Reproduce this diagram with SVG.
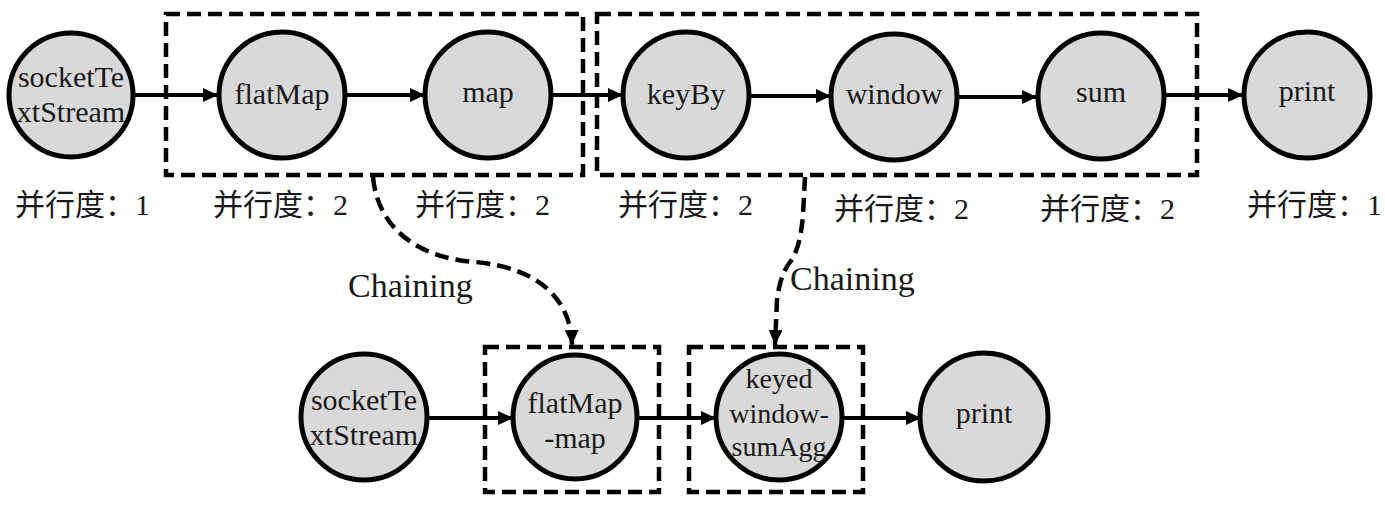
<svg xmlns="http://www.w3.org/2000/svg" width="1385" height="506" viewBox="0 0 1385 506">
<style>
.node{fill:#d9d9d9;stroke:#000;stroke-width:5}
.t{font-family:"Liberation Serif","Noto Sans CJK SC",serif;font-size:30px;fill:#1a1a1a;text-anchor:middle}
.ts{font-family:"Liberation Serif","Noto Sans CJK SC",serif;font-size:28px;fill:#1a1a1a;text-anchor:middle}
.lbl{font-family:"Liberation Serif","Noto Sans CJK SC",serif;font-size:30px;fill:#1a1a1a}
.chain{font-family:"Liberation Serif","Noto Sans CJK SC",serif;font-size:34px;fill:#1a1a1a}
.box{fill:none;stroke:#000;stroke-width:4.5;stroke-dasharray:14 7}
.edge{fill:none;stroke:#000;stroke-width:4;marker-end:url(#ah)}
.dedge{fill:none;stroke:#000;stroke-width:4.5;stroke-dasharray:14 7;marker-end:url(#ah)}
</style>
<defs>
<marker id="ah" markerUnits="userSpaceOnUse" markerWidth="17" markerHeight="15" refX="15" refY="7" orient="auto">
<path d="M0,0 L15,7 L0,14 z" fill="#000"/>
</marker>
</defs>
<rect width="1385" height="506" fill="#fff"/>

<g id="groups">
<rect class="box" x="166" y="14" width="417" height="161"/>
<rect class="box" x="597" y="14" width="600" height="161"/>
<rect class="box" x="485" y="347" width="174" height="145"/>
<rect class="box" x="689" y="347" width="174" height="145"/>
</g>

<g id="connectors">
<line class="edge" x1="134" y1="95" x2="218" y2="95"/>
<line class="edge" x1="346" y1="95" x2="425" y2="95"/>
<line class="edge" x1="552" y1="95" x2="623" y2="95"/>
<line class="edge" x1="750" y1="96" x2="831" y2="96"/>
<line class="edge" x1="958" y1="97" x2="1037" y2="97"/>
<line class="edge" x1="1165" y1="95" x2="1243" y2="95"/>
<line class="edge" x1="427" y1="418" x2="513" y2="418"/>
<line class="edge" x1="637" y1="418" x2="716" y2="418"/>
<line class="edge" x1="842" y1="418" x2="921" y2="418"/>
<path class="dedge" d="M373 177 C378 230 420 258 475 262 C540 268 571 300 572 345"/>
<path class="dedge" d="M805 177 L803 215 Q800 250 790 262 Q780 275 777 300 L775 345"/>
</g>

<g id="n-socket1"><circle class="node" cx="71" cy="95" r="62"/><text class="t" x="71" y="87">socketTe</text><text class="t" x="71" y="122">xtStream</text></g>
<g id="n-flatMap"><circle class="node" cx="282" cy="95" r="63"/><text class="t" x="282" y="104">flatMap</text></g>
<g id="n-map"><circle class="node" cx="488" cy="95" r="63"/><text class="t" x="488" y="102">map</text></g>
<g id="n-keyBy"><circle class="node" cx="686" cy="95" r="63"/><text class="t" x="686" y="104">keyBy</text></g>
<g id="n-window"><circle class="node" cx="894" cy="97" r="63"/><text class="t" x="894" y="104">window</text></g>
<g id="n-sum"><circle class="node" cx="1101" cy="96" r="63"/><text class="t" x="1101" y="102">sum</text></g>
<g id="n-print1"><circle class="node" cx="1307" cy="95" r="63"/><text class="t" x="1307" y="101">print</text></g>

<g id="n-socket2"><circle class="node" cx="364" cy="417" r="63"/><text class="t" x="364" y="410">socketTe</text><text class="t" x="364" y="445">xtStream</text></g>
<g id="n-flatMapMap"><circle class="node" cx="575" cy="417" r="62"/><text class="t" x="575" y="413">flatMap</text><text class="t" x="575" y="448">-map</text></g>
<g id="n-keyed"><circle class="node" cx="779" cy="417" r="63"/><text class="ts" x="779" y="388">keyed</text><text class="ts" x="779" y="423">window-</text><text class="ts" x="779" y="456">sumAgg</text></g>
<g id="n-print2"><circle class="node" cx="984" cy="417" r="64"/><text class="t" x="984" y="423">print</text></g>

<g id="labels">
<text class="lbl" x="15" y="215">并行度：1</text>
<text class="lbl" x="213" y="215">并行度：2</text>
<text class="lbl" x="415" y="215">并行度：2</text>
<text class="lbl" x="618" y="215">并行度：2</text>
<text class="lbl" x="834" y="219">并行度：2</text>
<text class="lbl" x="1040" y="219">并行度：2</text>
<text class="lbl" x="1247" y="215">并行度：1</text>
<text class="chain" x="348" y="297">Chaining</text>
<text class="chain" x="790" y="290">Chaining</text>
</g>
</svg>
